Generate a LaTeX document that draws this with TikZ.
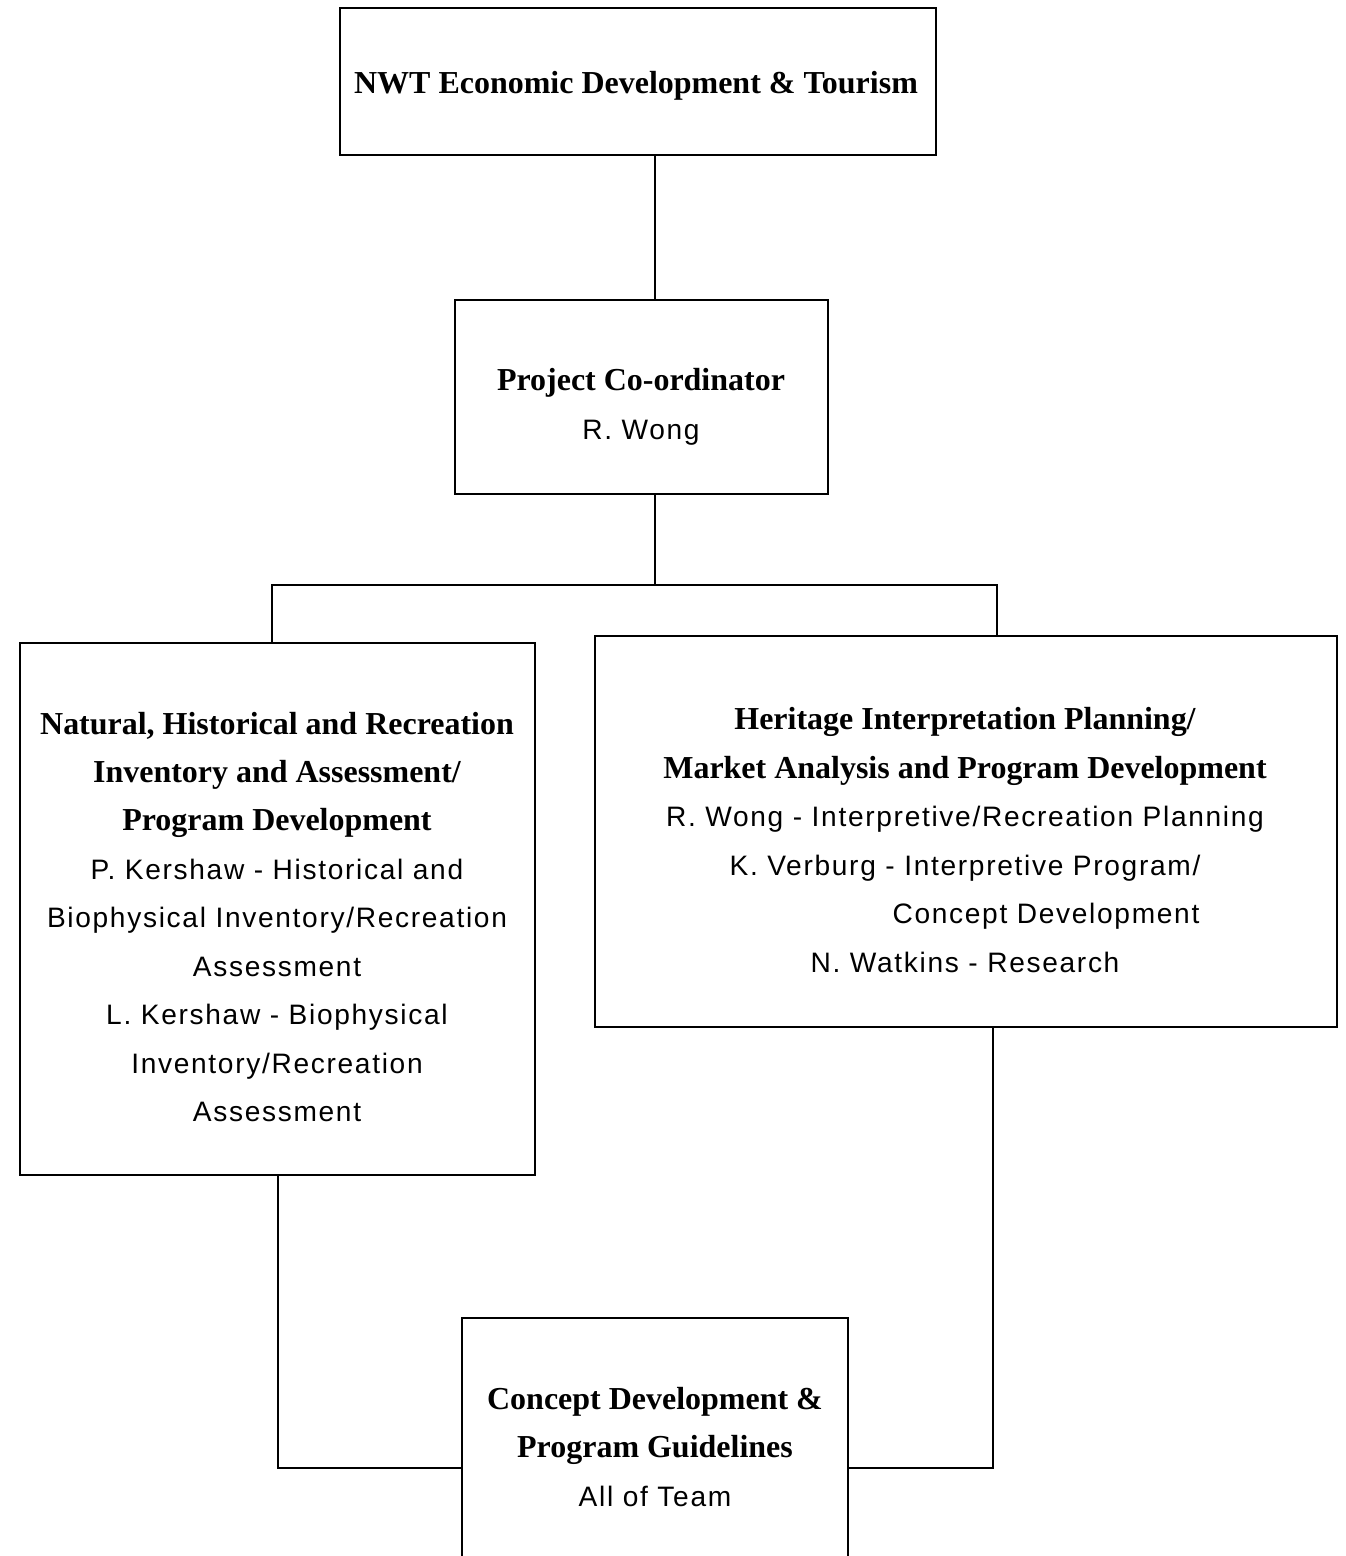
\documentclass[tikz,border=0pt]{standalone}
\usepackage{fontspec}
\setmainfont{Liberation Sans}[LetterSpace=6]
\newfontfamily\headfont{Liberation Serif}
\newcommand{\hd}[1]{{\headfont\bfseries\fontsize{18.2}{27.6}\selectfont #1}}
\tikzset{
  box/.style={draw, line width=1.1pt, inner sep=0pt},
  link/.style={draw, line width=1.1pt},
  txt/.style={align=center, inner sep=0pt, font=\fontsize{16}{27.6}\selectfont},
}

\begin{document}
\begin{tikzpicture}[x=0.02cm, y=-0.02cm]
\useasboundingbox (0,0) rectangle (1346,1556);
\clip (0,0) rectangle (1346,1556);
% boxes
\node [box, minimum width=11.92cm, minimum height=2.94cm] (top) at (638,81.5) {};
\node [box, minimum width=7.46cm, minimum height=3.88cm] (pc) at (641.5,397) {};
\node [box, minimum width=10.3cm, minimum height=10.64cm] (left) at (277.5,909) {};
\node [box, minimum width=14.84cm, minimum height=7.82cm] (right) at (966,831.5) {};
\node [box, minimum width=7.72cm, minimum height=6cm] (bottom) at (655,1468) {};
% texts
\node [txt] (topText) at (636,86) {\hd{NWT Economic Development \& Tourism}};
\node [txt] (pcText) at (641,407) {\hd{Project Co-ordinator}\\R. Wong};
\node [txt] (leftText) at (277,917) {\hd{Natural, Historical and Recreation}\\
  \hd{Inventory and Assessment/}\\
  \hd{Program Development}\\
  P. Kershaw - Historical and\\
  Biophysical Inventory/Recreation\\
  Assessment\\
  L. Kershaw - Biophysical\\
  Inventory/Recreation\\
  Assessment};
\node [txt] (rightText) at (965,840) {\hd{Heritage Interpretation Planning/}\\
  \hd{Market Analysis and Program Development}\\
  R. Wong - Interpretive/Recreation Planning\\
  K. Verburg - Interpretive Program/\\
  \hspace*{3.24cm}Concept Development\\
  N. Watkins - Research};
\node [txt] (bottomText) at (655,1447) {\hd{Concept Development \&}\\
  \hd{Program Guidelines}\\
  All of Team};
% connectors
\coordinate (spine) at (655,0);
\coordinate (lleg) at (272,585);
\coordinate (rleg) at (997,585);
\coordinate (ldrop) at (278,0);
\coordinate (rdrop) at (993,0);
\draw [link] (top.south -| spine) -- (pc.north -| spine);
\draw [link] (pc.south -| spine) -- (spine |- lleg);
\draw [link] (lleg |- left.north) -- (lleg) -- (rleg) -- (rleg |- right.north);
\draw [link] (left.south -| ldrop) |- (bottom.west);
\draw [link] (right.south -| rdrop) |- (bottom.east);
\end{tikzpicture}
\end{document}
